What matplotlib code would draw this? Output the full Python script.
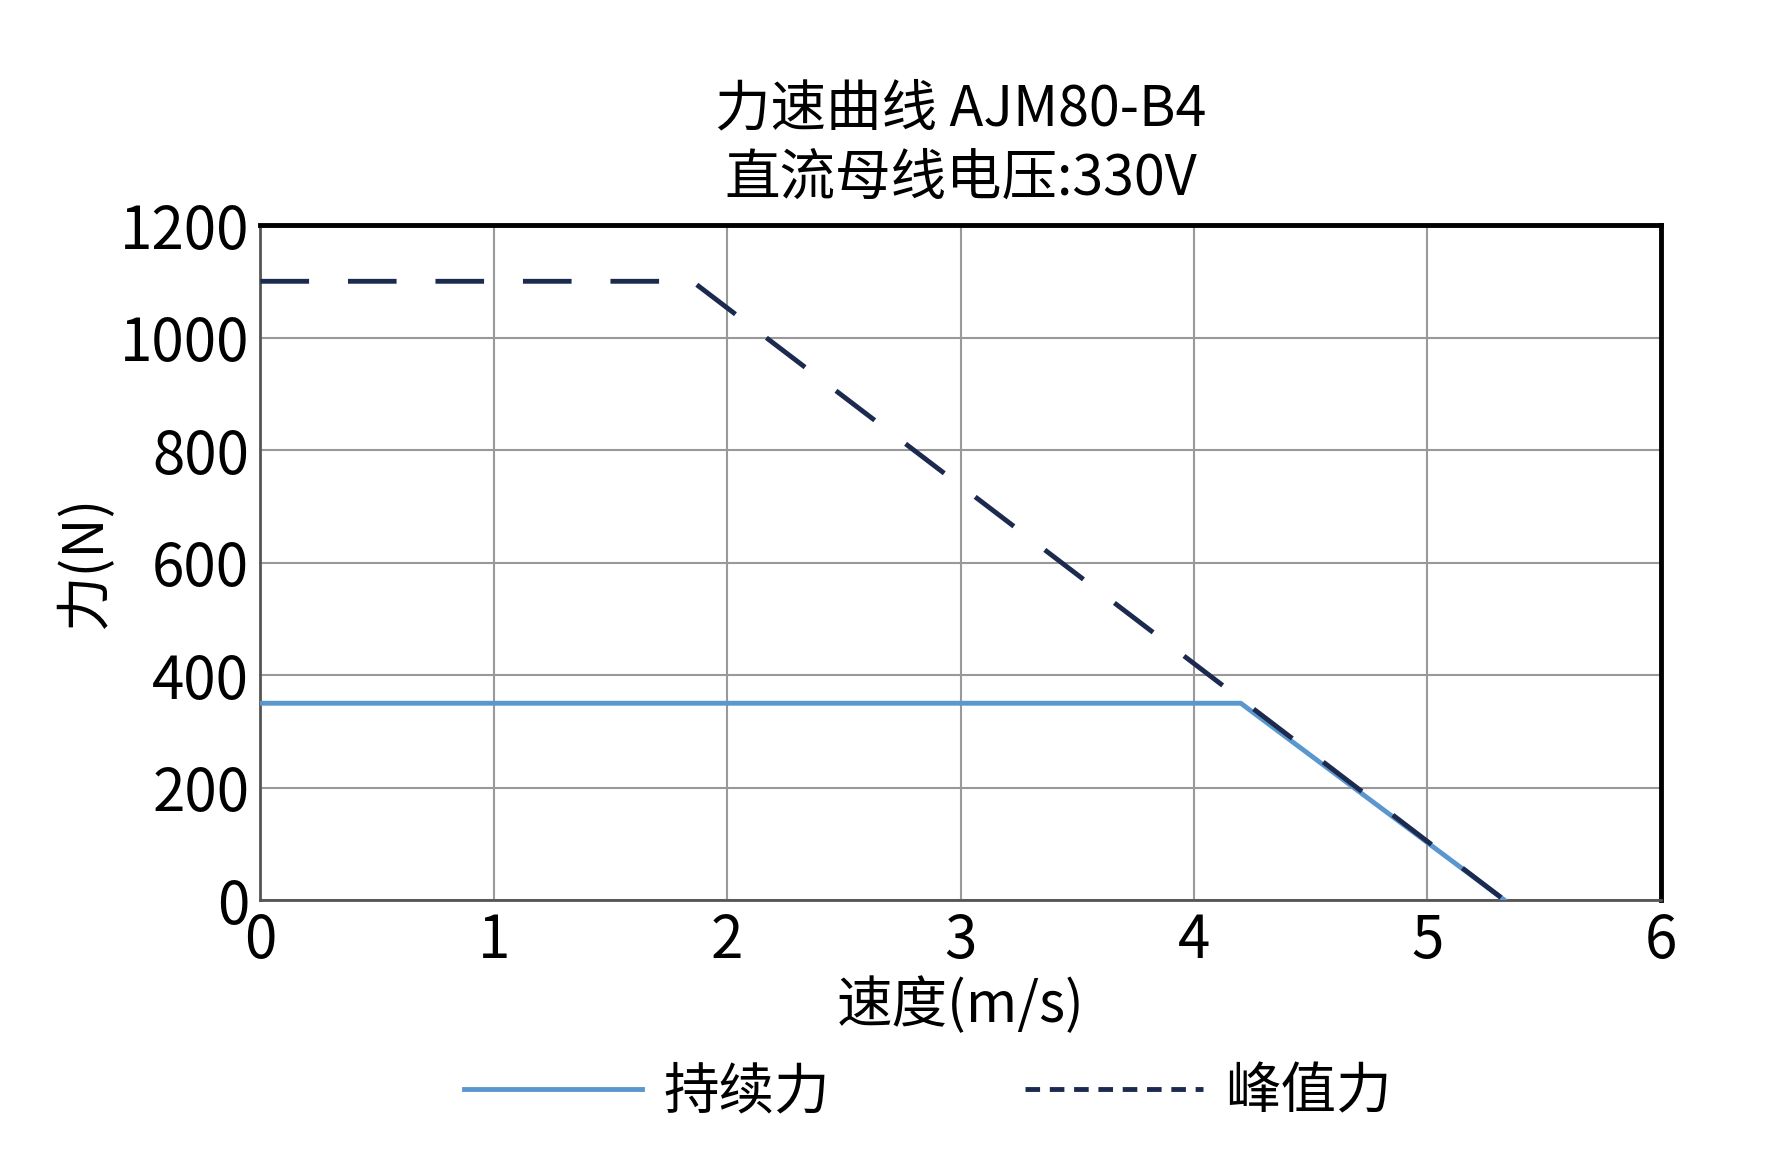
import matplotlib
matplotlib.use("Agg")
import matplotlib.pyplot as plt

plt.rcParams['font.family'] = ['Noto Sans CJK SC', 'DejaVu Sans']

cont_x = [0, 4.2, 5.33]
cont_y = [350, 350, 0]
peak_x = [0, 1.85, 5.33]
peak_y = [1100, 1100, 0]
xticks = [0, 1, 2, 3, 4, 5, 6]
yticks = [0, 200, 400, 600, 800, 1000, 1200]

fig = plt.figure(figsize=(17.84, 11.66), dpi=100)
ax = fig.add_axes([0.146, 0.228, 0.785, 0.579])
ax.plot(cont_x, cont_y, color='#5b97cf', lw=3.5, label='持续力', zorder=3)
ax.plot(peak_x, peak_y, color='#1b2a4e', lw=3.5, ls=(0, (10, 8)), label='峰值力', zorder=4)
ax.set_xlim(0, 6)
ax.set_ylim(0, 1200)
ax.set_xticks(xticks)
ax.set_yticks(yticks)
ax.grid(True, color='#999999', lw=1.5)
ax.tick_params(labelsize=42, length=0, pad=8)
for s in ['top', 'right']:
    ax.spines[s].set_linewidth(3.5)
    ax.spines[s].set_color('black')
for s in ['left', 'bottom']:
    ax.spines[s].set_linewidth(2)
    ax.spines[s].set_color('#555555')
ax.set_xlabel('速度(m/s)', fontsize=40, labelpad=4)
ax.set_ylabel('力(N)', fontsize=40, labelpad=4)
ax.set_title('力速曲线 AJM80-B4\n直流母线电压:330V', fontsize=40, pad=22, linespacing=1.25)
leg = fig.legend(handles=ax.get_lines(), loc='lower center', bbox_to_anchor=(0.52, -0.005), ncol=2, fontsize=40,
           frameon=False, handlelength=3.2, handletextpad=0.4, columnspacing=3.5)
leg.get_lines()[1].set_linestyle((0, (3, 2)))
fig.savefig('out.png', dpi=100)
